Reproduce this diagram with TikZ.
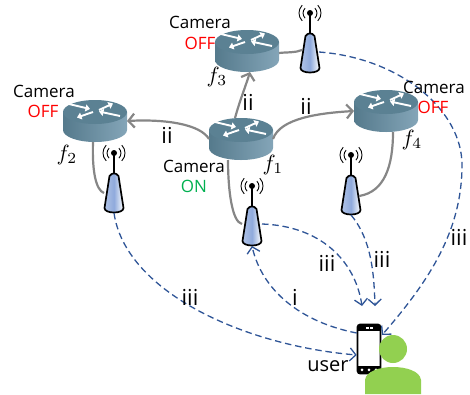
\documentclass[tikz,border=0pt]{standalone}
\usepackage{fontspec}
\setmainfont{Open Sans}
\usetikzlibrary{arrows.meta}
\definecolor{linkgray}{HTML}{868686}
\definecolor{dashblue}{HTML}{2F5597}
\definecolor{offred}{HTML}{FF0000}
\definecolor{ongreen}{HTML}{00B050}
\definecolor{routertop}{HTML}{5B8193}
\definecolor{routerdark}{HTML}{557A8C}
\definecolor{routerlight}{HTML}{84A5B8}
\definecolor{bodylight}{HTML}{DCE6F5}
\definecolor{bodyblue}{HTML}{8FAADC}
\definecolor{persongreen}{HTML}{92D050}
\tikzset{
  x=1pt,y=-1pt,
  routerbox/.style={minimum width=64pt,minimum height=42pt,inner sep=0pt,outer sep=0pt},
  antennabox/.style={minimum width=20pt,minimum height=40pt,inner sep=0pt,outer sep=0pt},
  wire/.style={draw=linkgray,line width=2.2pt},
  wirearrow/.style={wire,-{Straight Barb[length=6pt,width=14pt,line width=2.2pt]}},
  radio/.style={draw=dashblue,line width=1.3pt,dash pattern=on 6.5pt off 3.8pt},
  radioarrow/.style={radio,-{Straight Barb[length=6pt,width=13pt,line width=1.3pt]}},
  label/.style={font=\fontsize{17}{19}\selectfont,inner sep=0pt,text=black},
  numeral/.style={font=\fontsize{22}{24}\selectfont,inner sep=0pt,text=black},
  username/.style={font=\fontsize{20}{22}\selectfont,inner sep=0pt,text=black},
  fname/.style={scale=2.2,inner sep=0pt,text=black},
  rarrow/.style={draw=white,line width=1.9pt,-{Triangle[length=4.5pt,width=7pt]}}
}
% name, x, y (centre of the router)
\newcommand{\routericon}[3]{%
  \begin{scope}[shift={(#2,#3)}]
    \path[left color=routerdark,right color=routerlight]
      (-32,-9) -- (-32,9) arc[start angle=180,end angle=0,x radius=32,y radius=12] -- (32,-9) -- cycle;
    \fill[routertop] (0,-9) ellipse[x radius=32,y radius=12];
    \draw[rarrow] (-26,-17) -- (-5,-12);
    \draw[rarrow] (4,-11) -- (18,-17.5);
    \draw[rarrow] (-2,-9) -- (-18,-3.5);
    \draw[rarrow] (25,-5) -- (4,-9.5);
  \end{scope}
  \node[routerbox] (#1) at (#2,#3) {};%
}
% name, x, y (centre of the body)
\newcommand{\antennaicon}[3]{%
  \begin{scope}[shift={(#2,#3)}]
    \draw[black,line width=1.7pt] (0,-40) -- (0,-20);
    \fill[black] (0,-40) circle[radius=3];
    \draw[black,line width=.9pt] (-4.9,-34.9) arc[start angle=135,end angle=225,radius=7];
    \draw[black,line width=.9pt] (4.9,-34.9) arc[start angle=45,end angle=-45,radius=7];
    \draw[black,line width=.9pt] (-7.8,-32.2) arc[start angle=135,end angle=225,radius=11];
    \draw[black,line width=.9pt] (7.8,-32.2) arc[start angle=45,end angle=-45,radius=11];
    \path[draw=black,line width=1.7pt,left color=bodyblue!70,right color=bodyblue!70!black!0,middle color=bodyblue]
      (-4.5,-17) .. controls (-2,-20.5) and (2,-20.5) .. (4.5,-17)
      -- (9.5,15) .. controls (9.5,21) and (-9.5,21) .. (-9.5,15) -- cycle;
  \end{scope}
  \node[antennabox] (#1) at (#2,#3) {};%
}
\begin{document}
\begin{tikzpicture}
\useasboundingbox (0,0) rectangle (470,394);

\routericon{f1}{241}{139}
\routericon{f2}{95}{121}
\routericon{f3}{247}{51}
\routericon{f4}{386}{111}
\antennaicon{a2}{114}{193}
\antennaicon{a1}{252}{226}
\antennaicon{a3}{310}{53}
\antennaicon{a4}{351}{195}

% user
\node[draw=black,line width=1.6pt,rounded corners=2.5pt,fill=white,minimum width=23pt,minimum height=49pt,inner sep=0pt] (phone) at (369,349) {};
\fill[black] (358,324.5) rectangle (380,331);
\fill[black] (358,366) rectangle (380,373.5);
\fill[white] (365.5,326.5) rectangle (368.5,328.5);
\fill[white] (370,326.5) rectangle (373,328.5);
\foreach \px in {362,369,376} \fill[white] (\px,369.8) circle[radius=1.5];
\node[circle,fill=persongreen,minimum size=28pt,inner sep=0pt] (head) at (393,349) {};
\fill[persongreen] (365,394) -- (365,380) .. controls (366,371) and (380,367) .. (393,367)
  .. controls (406,367) and (420,371) .. (421,380) -- (421,394) -- cycle;

% backhaul links
\draw[wirearrow] (f1.west) .. controls (200,124) and (165,119) .. (f2.east);
\draw[wirearrow] ([xshift=-6pt]f1.north) .. controls (240,100) and (245,88) .. ([xshift=3pt]f3.south);
\draw[wirearrow] (f1.east) .. controls (280,118) and (320,113) .. (f4.west);
\draw[wire] (f2.south) ++(-2,0) .. controls (92,172) and (96,190) .. (a2.west);
\draw[wire] ([xshift=-13pt]f1.south) .. controls (228,190) and (232,222) .. ([yshift=2pt]a1.west);
\draw[wire] (f3.east) ++(0,2) .. controls (287,52) and (295,53) .. ([xshift=2pt,yshift=3pt]a3.west);
\draw[wire] ([xshift=7pt]f4.south) .. controls (393,165) and (385,192) .. ([xshift=-2pt,yshift=-1pt]a4.east);

% radio links
\draw[radioarrow] (a2.south) .. controls (125,290) and (240,345) .. ([yshift=-6pt]phone.west);
\draw[radioarrow] ([yshift=2pt]a1.east) .. controls (320,226) and (355,260) .. (362,306);
\draw[radioarrow] (a4.south) .. controls (372,240) and (374,275) .. (375,306);
\draw[radioarrow] (phone.west |- 0,333) .. controls (300,322) and (262,290) .. (a1.south);
\draw[radioarrow] ([xshift=-1pt,yshift=1pt]a3.east) .. controls (400,58) and (462,110) .. (462,165)
  .. controls (462,230) and (430,280) .. (382,335);

% texts
\node[label] (c3) at (200,22) {Camera};
\node[label,text=offred] (o3) at (200,43) {OFF};
\node[label] (c2) at (44,91) {Camera};
\node[label,text=offred] (o2) at (43,111) {OFF};
\node[label] (c1) at (194,166) {Camera};
\node[label,text=ongreen] (o1) at (194,186) {ON};
\node[label] (c4) at (434,87) {Camera};
\node[label,text=offred] (o4) at (433,107) {OFF};
\node[fname] (l3) at (217,77) {$f_3$};
\node[fname] (l2) at (67,155) {$f_2$};
\node[fname] (l1) at (273,165) {$f_1$};
\node[fname] (l4) at (412,140) {$f_4$};
\node[numeral] (n1) at (167,135) {ii};
\node[numeral] (n2) at (248,102) {ii};
\node[numeral] (n3) at (306,106) {ii};
\node[numeral] (n4) at (190,297) {iii};
\node[numeral] (n5) at (327,263) {iii};
\node[numeral] (n6) at (382,259) {iii};
\node[numeral] (n7) at (459,237) {iii};
\node[numeral] (n8) at (295,297) {i};
\node[username] (n9) at (328,366) {user};
\end{tikzpicture}
\end{document}
